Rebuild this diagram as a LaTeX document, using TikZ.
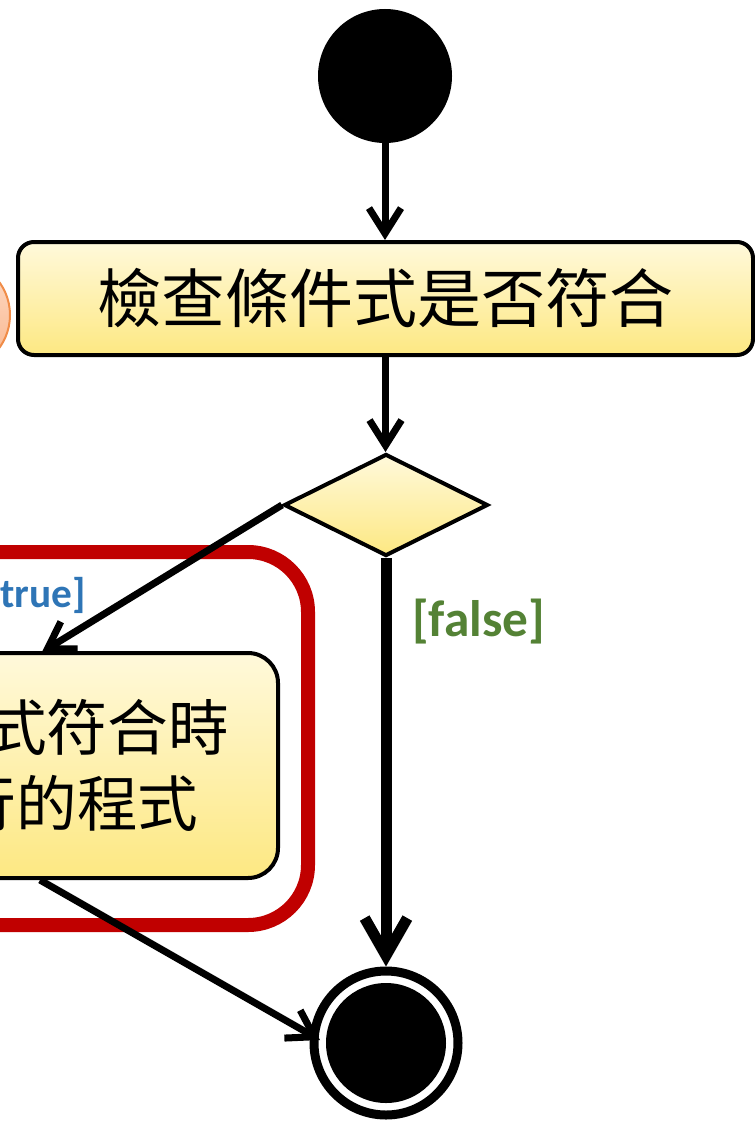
\documentclass[tikz,border=0pt]{standalone}
\usepackage{fontspec}
\newfontfamily\cjk{Noto Sans CJK TC}
\newfontfamily\lab{Carlito}
\usetikzlibrary{arrows.meta,shapes.geometric}
\definecolor{boxtop}{HTML}{FFF9DB}
\definecolor{boxbot}{HTML}{FDE882}
\definecolor{redline}{HTML}{C00000}
\definecolor{trueblue}{HTML}{2E75B6}
\definecolor{falsegreen}{HTML}{548235}
\definecolor{ortop}{HTML}{FDDCC8}
\definecolor{orbot}{HTML}{FAB48A}
\definecolor{orline}{HTML}{F08C48}
\tikzset{
  actbox/.style={draw=black, line width=3pt, rounded corners=12pt, top color=boxtop, bottom color=boxbot, inner sep=0pt},
  flow/.style={line width=5.25pt, -{Straight Barb[length=19pt,width=24pt]}},
  bigflow/.style={line width=8.25pt, -{Straight Barb[length=28pt,width=32pt]}},
  lbl/.style={font=\lab\bfseries, inner sep=0pt},
}
\begin{document}
\begin{tikzpicture}[x=0.75pt,y=-0.75pt]
\useasboundingbox (0,0) rectangle (755,1131);
\clip (0,0) rectangle (755,1131);
% start
\node[circle, fill=black, minimum size=100.5pt, inner sep=0pt] (s) at (385,76) {};
% first action
\node[actbox, minimum width=551.25pt, minimum height=84.75pt, font=\cjk\fontsize{48}{56}\selectfont] (b1) at (385.5,298.5) {檢查條件式是否符合};
% partial orange circle
\node[circle, draw=orline, line width=1.5pt, top color=ortop, bottom color=orbot, minimum size=84pt, inner sep=0pt] (o) at (-46,315) {};
% decision
\node[diamond, draw=black, line width=3pt, top color=boxtop, bottom color=boxbot, minimum width=153pt, minimum height=76.5pt, inner sep=0pt] (d) at (386,505) {};
% red highlight frame
\node[draw=redline, line width=10.5pt, rounded corners=45pt, minimum width=306pt, minimum height=279.75pt, inner sep=0pt] (r) at (104,738.5) {};
% second action
\node[actbox, rounded corners=22.5pt, minimum width=346.5pt, minimum height=168.75pt, align=center, font=\cjk\fontsize{45.5}{57}\selectfont] (a2) at (47,765.5) {條件式符合時\\執行的程式};
% final node
\node[circle, draw=black, line width=6.75pt, fill=white, minimum size=108pt, inner sep=0pt] (f) at (386,1043) {};
\node[circle, fill=black, minimum size=90pt, inner sep=0pt] (fi) at (f) {};
% labels
\node[lbl, text=trueblue, anchor=east, font=\lab\bfseries\fontsize{31}{37}\selectfont] (lt) at (86,595) {[true]};
\node[lbl, text=falsegreen, anchor=west, font=\lab\bfseries\fontsize{38.5}{46}\selectfont] (lf) at (412,622) {[false]};
% connectors
\coordinate (t1) at (42,652);
\coordinate (fw) at (320,1040);
\draw[flow] (s.south) -- (s.south |- b1.north);
\draw[flow] (b1.south) -- (b1.south |- d.north);
\draw[flow] (d.west) -- (t1);
\draw[bigflow] (d.south) -- (f.north);
\draw[flow] ([xshift=-5.25pt]a2.south) -- (fw);
\end{tikzpicture}
\end{document}
